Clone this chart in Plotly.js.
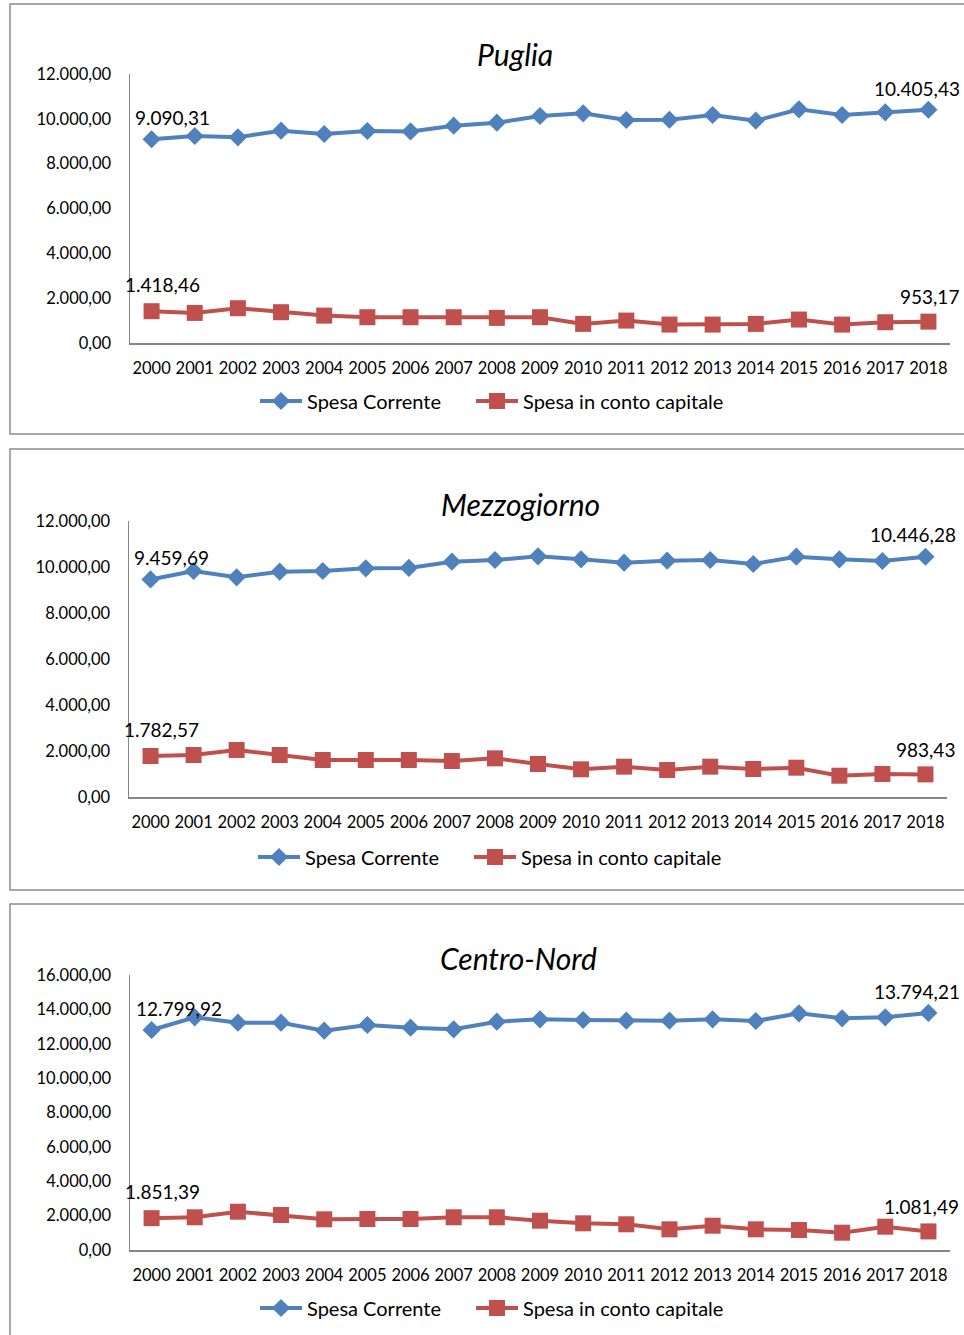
<!DOCTYPE html>
<html><head><meta charset="utf-8">
<script src="https://cdn.plot.ly/plotly-3.0.1.min.js"></script>
<style>html,body{margin:0;padding:0;background:#fff}#chart{width:964px;height:1335px}</style>
</head><body><div id="chart"></div>
<script>
// ---- data ----
const years = ['2000','2001','2002','2003','2004','2005','2006','2007','2008','2009','2010','2011','2012','2013','2014','2015','2016','2017','2018'];
const seriesNames = ['Spesa Corrente','Spesa in conto capitale'];
const panelTitles = ['Puglia','Mezzogiorno','Centro-Nord'];

const pugliaCorrente = [9090.31,9234,9176,9471,9323,9457,9440,9694,9828,10126,10247,9948,9960,10171,9917,10425,10171,10292,10405.43];
const pugliaCapitale = [1418.46,1342,1552,1373,1222,1150,1150,1150,1120,1150,852,1000,822,822,852,1046,822,927,953.17];

const mezzCorrente = [9459.69,9826,9551,9797,9826,9942,9960,10232,10304,10465,10333,10188,10275,10304,10130,10449,10333,10261,10446.28];
const mezzCapitale = [1782.57,1826,2043,1826,1609,1609,1609,1565,1681,1435,1204,1319,1174,1319,1217,1275,926,1000,983.43];

const cnCorrente = [12799.92,13539,13225,13225,12760,13091,12934,12841,13283,13422,13382,13341,13341,13422,13324,13772,13481,13539,13794.21];
const cnCapitale = [1851.39,1903,2228,2036,1786,1804,1804,1903,1903,1705,1553,1495,1204,1414,1204,1164,1007,1356,1081.49];

const yMax = [12000,12000,16000];

// ---- styling / layout ----
const W = 964, H = 1335;
const px = v => v / W, py = v => 1 - v / H;
const FONT = 'Lato, "Open Sans", sans-serif';
const BLUE = '#4F81BD', RED = '#C0504D', AXIS = '#868686';

const panels = [
  {data:[pugliaCorrente,pugliaCapitale], xd:[130,950], yd:[343,74], legendY:401, legendX:[255,471], titleX:515, titleY:54, box:[4,434],
   lab:[[21,22],[-11,21],[11,27],[1,25]]},
  {data:[mezzCorrente,mezzCapitale], xd:[129,947], yd:[797,521], legendY:857, legendX:[253,469], titleX:520, titleY:504, box:[449,890],
   lab:[[21,22],[-12,22],[11,27],[0,25]]},
  {data:[cnCorrente,cnCapitale], xd:[130,950], yd:[1250,975], legendY:1308, legendX:[255,471], titleX:518, titleY:958, box:[904,1400],
   lab:[[27,22],[-11,21],[11,27],[-7,25]]}
];

function fmt(v){
  const parts = v.toFixed(2).split('.');
  const intp = parts[0].replace(/\B(?=(\d{3})+(?!\d))/g, '.');
  return intp + ',' + parts[1];
}

const traces = [];
const layout = {
  width: W, height: H, margin:{l:0,r:0,t:0,b:0},
  paper_bgcolor:'#fff', plot_bgcolor:'rgba(0,0,0,0)',
  separators: ',.',
  font:{family:FONT, size:16, color:'#000'},
  shapes:[], annotations:[], showlegend:true
};

let legCount = 0;
panels.forEach((p, i) => {
  const n = i === 0 ? '' : String(i + 1);
  const xa = 'x' + n, ya = 'y' + n;
  const colors = [BLUE, RED];
  const symbols = ['diamond','square'];
  const sizes = [14, 16];
  p.data.forEach((vals, s) => {
    legCount++;
    const legName = legCount === 1 ? 'legend' : 'legend' + legCount;
    traces.push({
      type:'scatter', mode:'lines+markers', x: years.map((_, k) => k), y: vals,
      name: seriesNames[s], xaxis: xa, yaxis: ya, legend: legName,
      line:{color: colors[s], width: 4},
      marker:{symbol: symbols[s], size: sizes[s], color: colors[s]},
      hoverinfo:'skip'
    });
    layout[legName] = {
      orientation:'h', x: px(p.legendX[s]), xanchor:'left', y: py(p.legendY), yanchor:'middle',
      font:{family:FONT, size:20, color:'#000'}, bgcolor:'rgba(0,0,0,0)', itemwidth:42,
      borderwidth:0
    };
    // data labels at first and last point
    [0, vals.length - 1].forEach((idx, k) => {
      const off = p.lab[s * 2 + k];
      layout.annotations.push({
        xref: xa, yref: ya, x: idx, y: vals[idx], text: fmt(vals[idx]),
        showarrow:false, xshift: off[0], yshift: off[1],
        font:{family:FONT, size:19, color:'#000'}
      });
    });
  });
  layout['xaxis' + n] = {
    domain:[px(p.xd[0]), px(p.xd[1])], anchor: ya, type:'linear',
    range:[-0.5, years.length - 0.5], tickmode:'array',
    tickvals: years.map((_, k) => k), ticktext: years,
    showgrid:false, zeroline:false,
    showline:true, linecolor:AXIS, linewidth:1.5, ticks:'',
    tickfont:{family:FONT, size:16.5, color:'#000'}, ticklabelstandoff: 10, fixedrange:true
  };
  layout['yaxis' + n] = {
    domain:[py(p.yd[0]), py(p.yd[1])], anchor: xa,
    range:[0, yMax[i]], dtick:2000, tickformat:',.2f',
    showgrid:false, zeroline:false, showline:true, linecolor:AXIS, linewidth:1.5, ticks:'',
    tickfont:{family:FONT, size:16.5, color:'#000'}, ticklabelstandoff: 14, fixedrange:true
  };
  layout.annotations.push({
    xref:'paper', yref:'paper', x: px(p.titleX), y: py(p.titleY), xanchor:'center', yanchor:'middle',
    text: '<i>' + panelTitles[i] + '</i>', showarrow:false,
    font:{family:FONT, size:30, color:'#000'}
  });
  layout.shapes.push({
    type:'rect', xref:'paper', yref:'paper',
    x0: px(10), x1: px(980), y0: py(p.box[1]), y1: py(p.box[0]),
    line:{color:'#8c8c8c', width:1.5}, fillcolor:'rgba(0,0,0,0)', layer:'below'
  });
});

Plotly.newPlot('chart', traces, layout, {displayModeBar:false, staticPlot:true});
</script>
</body></html>
